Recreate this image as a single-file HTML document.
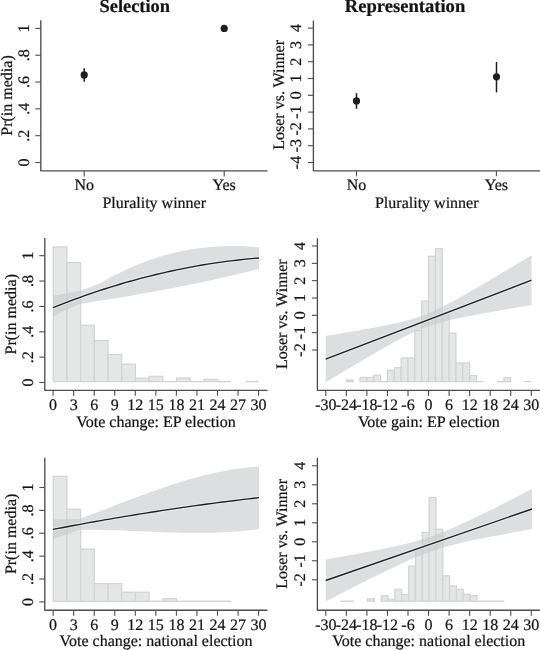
<!DOCTYPE html>
<html><head><meta charset="utf-8"><style>
html,body{margin:0;padding:0;background:#fff;}
svg{display:block;}
text{font-family:"Liberation Serif",serif;fill:#141414;stroke:#141414;stroke-width:0.22px;text-rendering:geometricPrecision;}
svg{will-change:transform;}
</style></head><body>
<svg width="540" height="650" viewBox="0 0 540 650">
<rect width="540" height="650" fill="#fff"/>
<text x="134.80" y="12.20" text-anchor="middle" font-size="18.4" font-weight="bold">Selection</text>
<text x="405.00" y="11.90" text-anchor="middle" font-size="18.6" font-weight="bold">Representation</text>
<path d="M40.80 20.20 V170.90 H267.50" fill="none" stroke="#4d4d4d" stroke-width="1.35" stroke-linejoin="round"/>
<line x1="35.30" y1="162.50" x2="40.80" y2="162.50" stroke="#4d4d4d" stroke-width="1.1"/>
<text transform="translate(28.70,162.50) rotate(-90)" text-anchor="middle" font-size="16" font-weight="normal">0</text>
<line x1="35.30" y1="135.68" x2="40.80" y2="135.68" stroke="#4d4d4d" stroke-width="1.1"/>
<text transform="translate(28.70,135.68) rotate(-90)" text-anchor="middle" font-size="16" font-weight="normal">.2</text>
<line x1="35.30" y1="108.86" x2="40.80" y2="108.86" stroke="#4d4d4d" stroke-width="1.1"/>
<text transform="translate(28.70,108.86) rotate(-90)" text-anchor="middle" font-size="16" font-weight="normal">.4</text>
<line x1="35.30" y1="82.04" x2="40.80" y2="82.04" stroke="#4d4d4d" stroke-width="1.1"/>
<text transform="translate(28.70,82.04) rotate(-90)" text-anchor="middle" font-size="16" font-weight="normal">.6</text>
<line x1="35.30" y1="55.22" x2="40.80" y2="55.22" stroke="#4d4d4d" stroke-width="1.1"/>
<text transform="translate(28.70,55.22) rotate(-90)" text-anchor="middle" font-size="16" font-weight="normal">.8</text>
<line x1="35.30" y1="28.40" x2="40.80" y2="28.40" stroke="#4d4d4d" stroke-width="1.1"/>
<text transform="translate(28.70,28.40) rotate(-90)" text-anchor="middle" font-size="16" font-weight="normal">1</text>
<line x1="84.20" y1="170.90" x2="84.20" y2="176.40" stroke="#4d4d4d" stroke-width="1.1"/>
<text x="84.20" y="190.00" text-anchor="middle" font-size="16" font-weight="normal">No</text>
<line x1="224.20" y1="170.90" x2="224.20" y2="176.40" stroke="#4d4d4d" stroke-width="1.1"/>
<text x="224.20" y="190.00" text-anchor="middle" font-size="16" font-weight="normal">Yes</text>
<text x="154.25" y="207.90" text-anchor="middle" font-size="16" font-weight="normal">Plurality winner</text>
<text transform="translate(11.60,95.50) rotate(-90)" text-anchor="middle" font-size="16" font-weight="normal">Pr(in media)</text>
<line x1="84.2" y1="68.2" x2="84.2" y2="81.8" stroke="#1e1e1e" stroke-width="1.5"/>
<circle cx="84.2" cy="74.9" r="3.6" fill="#1e1e1e"/>
<circle cx="224.2" cy="28.4" r="3.6" fill="#1e1e1e"/>
<path d="M313.40 20.50 V170.80 H540.00" fill="none" stroke="#4d4d4d" stroke-width="1.35" stroke-linejoin="round"/>
<line x1="307.90" y1="162.50" x2="313.40" y2="162.50" stroke="#4d4d4d" stroke-width="1.1"/>
<text transform="translate(300.70,162.50) rotate(-90)" text-anchor="middle" font-size="16" font-weight="normal">-4</text>
<line x1="307.90" y1="145.70" x2="313.40" y2="145.70" stroke="#4d4d4d" stroke-width="1.1"/>
<text transform="translate(300.70,145.70) rotate(-90)" text-anchor="middle" font-size="16" font-weight="normal">-3</text>
<line x1="307.90" y1="128.90" x2="313.40" y2="128.90" stroke="#4d4d4d" stroke-width="1.1"/>
<text transform="translate(300.70,128.90) rotate(-90)" text-anchor="middle" font-size="16" font-weight="normal">-2</text>
<line x1="307.90" y1="112.10" x2="313.40" y2="112.10" stroke="#4d4d4d" stroke-width="1.1"/>
<text transform="translate(300.70,112.10) rotate(-90)" text-anchor="middle" font-size="16" font-weight="normal">-1</text>
<line x1="307.90" y1="95.30" x2="313.40" y2="95.30" stroke="#4d4d4d" stroke-width="1.1"/>
<text transform="translate(300.70,95.30) rotate(-90)" text-anchor="middle" font-size="16" font-weight="normal">0</text>
<line x1="307.90" y1="78.50" x2="313.40" y2="78.50" stroke="#4d4d4d" stroke-width="1.1"/>
<text transform="translate(300.70,78.50) rotate(-90)" text-anchor="middle" font-size="16" font-weight="normal">1</text>
<line x1="307.90" y1="61.70" x2="313.40" y2="61.70" stroke="#4d4d4d" stroke-width="1.1"/>
<text transform="translate(300.70,61.70) rotate(-90)" text-anchor="middle" font-size="16" font-weight="normal">2</text>
<line x1="307.90" y1="44.90" x2="313.40" y2="44.90" stroke="#4d4d4d" stroke-width="1.1"/>
<text transform="translate(300.70,44.90) rotate(-90)" text-anchor="middle" font-size="16" font-weight="normal">3</text>
<line x1="307.90" y1="28.10" x2="313.40" y2="28.10" stroke="#4d4d4d" stroke-width="1.1"/>
<text transform="translate(300.70,28.10) rotate(-90)" text-anchor="middle" font-size="16" font-weight="normal">4</text>
<line x1="356.50" y1="170.80" x2="356.50" y2="176.30" stroke="#4d4d4d" stroke-width="1.1"/>
<text x="356.50" y="190.00" text-anchor="middle" font-size="16" font-weight="normal">No</text>
<line x1="496.40" y1="170.80" x2="496.40" y2="176.30" stroke="#4d4d4d" stroke-width="1.1"/>
<text x="496.40" y="190.00" text-anchor="middle" font-size="16" font-weight="normal">Yes</text>
<text x="426.75" y="207.90" text-anchor="middle" font-size="16" font-weight="normal">Plurality winner</text>
<text transform="translate(283.50,94.90) rotate(-90)" text-anchor="middle" font-size="16" font-weight="normal">Loser vs. Winner</text>
<line x1="356.5" y1="93.2" x2="356.5" y2="108.8" stroke="#1e1e1e" stroke-width="1.5"/>
<circle cx="356.5" cy="100.9" r="3.6" fill="#1e1e1e"/>
<line x1="496.5" y1="61.9" x2="496.5" y2="92.4" stroke="#1e1e1e" stroke-width="1.5"/>
<circle cx="496.5" cy="76.8" r="3.6" fill="#1e1e1e"/>
<path d="M44.80 238.00 V390.30 H267.50" fill="none" stroke="#4d4d4d" stroke-width="1.35" stroke-linejoin="round"/>
<line x1="39.30" y1="382.50" x2="44.80" y2="382.50" stroke="#4d4d4d" stroke-width="1.1"/>
<text transform="translate(32.60,382.50) rotate(-90)" text-anchor="middle" font-size="16" font-weight="normal">0</text>
<line x1="39.30" y1="357.14" x2="44.80" y2="357.14" stroke="#4d4d4d" stroke-width="1.1"/>
<text transform="translate(32.60,357.14) rotate(-90)" text-anchor="middle" font-size="16" font-weight="normal">.2</text>
<line x1="39.30" y1="331.78" x2="44.80" y2="331.78" stroke="#4d4d4d" stroke-width="1.1"/>
<text transform="translate(32.60,331.78) rotate(-90)" text-anchor="middle" font-size="16" font-weight="normal">.4</text>
<line x1="39.30" y1="306.42" x2="44.80" y2="306.42" stroke="#4d4d4d" stroke-width="1.1"/>
<text transform="translate(32.60,306.42) rotate(-90)" text-anchor="middle" font-size="16" font-weight="normal">.6</text>
<line x1="39.30" y1="281.06" x2="44.80" y2="281.06" stroke="#4d4d4d" stroke-width="1.1"/>
<text transform="translate(32.60,281.06) rotate(-90)" text-anchor="middle" font-size="16" font-weight="normal">.8</text>
<line x1="39.30" y1="255.70" x2="44.80" y2="255.70" stroke="#4d4d4d" stroke-width="1.1"/>
<text transform="translate(32.60,255.70) rotate(-90)" text-anchor="middle" font-size="16" font-weight="normal">1</text>
<line x1="53.10" y1="390.30" x2="53.10" y2="395.80" stroke="#4d4d4d" stroke-width="1.1"/>
<text x="53.10" y="409.60" text-anchor="middle" font-size="16" font-weight="normal">0</text>
<line x1="73.65" y1="390.30" x2="73.65" y2="395.80" stroke="#4d4d4d" stroke-width="1.1"/>
<text x="73.65" y="409.60" text-anchor="middle" font-size="16" font-weight="normal">3</text>
<line x1="94.20" y1="390.30" x2="94.20" y2="395.80" stroke="#4d4d4d" stroke-width="1.1"/>
<text x="94.20" y="409.60" text-anchor="middle" font-size="16" font-weight="normal">6</text>
<line x1="114.75" y1="390.30" x2="114.75" y2="395.80" stroke="#4d4d4d" stroke-width="1.1"/>
<text x="114.75" y="409.60" text-anchor="middle" font-size="16" font-weight="normal">9</text>
<line x1="135.30" y1="390.30" x2="135.30" y2="395.80" stroke="#4d4d4d" stroke-width="1.1"/>
<text x="135.30" y="409.60" text-anchor="middle" font-size="16" font-weight="normal">12</text>
<line x1="155.85" y1="390.30" x2="155.85" y2="395.80" stroke="#4d4d4d" stroke-width="1.1"/>
<text x="155.85" y="409.60" text-anchor="middle" font-size="16" font-weight="normal">15</text>
<line x1="176.40" y1="390.30" x2="176.40" y2="395.80" stroke="#4d4d4d" stroke-width="1.1"/>
<text x="176.40" y="409.60" text-anchor="middle" font-size="16" font-weight="normal">18</text>
<line x1="196.95" y1="390.30" x2="196.95" y2="395.80" stroke="#4d4d4d" stroke-width="1.1"/>
<text x="196.95" y="409.60" text-anchor="middle" font-size="16" font-weight="normal">21</text>
<line x1="217.50" y1="390.30" x2="217.50" y2="395.80" stroke="#4d4d4d" stroke-width="1.1"/>
<text x="217.50" y="409.60" text-anchor="middle" font-size="16" font-weight="normal">24</text>
<line x1="238.05" y1="390.30" x2="238.05" y2="395.80" stroke="#4d4d4d" stroke-width="1.1"/>
<text x="238.05" y="409.60" text-anchor="middle" font-size="16" font-weight="normal">27</text>
<line x1="258.60" y1="390.30" x2="258.60" y2="395.80" stroke="#4d4d4d" stroke-width="1.1"/>
<text x="258.60" y="409.60" text-anchor="middle" font-size="16" font-weight="normal">30</text>
<text x="156.00" y="426.60" text-anchor="middle" font-size="16" font-weight="normal">Vote change: EP election</text>
<text transform="translate(15.60,314.25) rotate(-90)" text-anchor="middle" font-size="16" font-weight="normal">Pr(in media)</text>
<rect x="53.25" y="247.00" width="13.70" height="134.60" fill="#e5e6e6" stroke="#d2d3d3" stroke-width="1.2"/>
<rect x="66.95" y="262.50" width="13.70" height="119.10" fill="#e5e6e6" stroke="#d2d3d3" stroke-width="1.2"/>
<rect x="80.65" y="325.30" width="13.70" height="56.30" fill="#e5e6e6" stroke="#d2d3d3" stroke-width="1.2"/>
<rect x="94.35" y="340.50" width="13.70" height="41.10" fill="#e5e6e6" stroke="#d2d3d3" stroke-width="1.2"/>
<rect x="108.05" y="354.50" width="13.70" height="27.10" fill="#e5e6e6" stroke="#d2d3d3" stroke-width="1.2"/>
<rect x="121.75" y="364.20" width="13.70" height="17.40" fill="#e5e6e6" stroke="#d2d3d3" stroke-width="1.2"/>
<rect x="135.45" y="378.20" width="13.70" height="3.40" fill="#e5e6e6" stroke="#d2d3d3" stroke-width="1.2"/>
<rect x="149.15" y="376.30" width="13.70" height="5.30" fill="#e5e6e6" stroke="#d2d3d3" stroke-width="1.2"/>
<line x1="162.85" y1="381.60" x2="176.55" y2="381.60" stroke="#d2d3d3" stroke-width="1.4"/>
<rect x="176.55" y="378.00" width="13.70" height="3.60" fill="#e5e6e6" stroke="#d2d3d3" stroke-width="1.2"/>
<line x1="190.25" y1="381.60" x2="203.95" y2="381.60" stroke="#d2d3d3" stroke-width="1.4"/>
<rect x="203.95" y="379.40" width="13.70" height="2.20" fill="#e5e6e6" stroke="#d2d3d3" stroke-width="1.2"/>
<line x1="217.65" y1="381.60" x2="231.35" y2="381.60" stroke="#d2d3d3" stroke-width="1.4"/>
<line x1="245.05" y1="381.60" x2="258.75" y2="381.60" stroke="#d2d3d3" stroke-width="1.4"/>
<path d="M53.00 295.80 L60.00 294.40 L80.00 291.10 L100.00 283.31 L105.30 280.24 L110.60 277.32 L115.90 274.54 L121.20 271.89 L126.50 269.39 L131.80 267.02 L137.10 264.79 L142.40 262.69 L147.70 260.73 L153.00 258.89 L158.30 257.19 L163.60 255.61 L168.90 254.16 L174.20 252.84 L179.50 251.63 L184.80 250.55 L190.10 249.59 L195.40 248.75 L200.70 248.02 L206.00 247.41 L211.30 246.91 L216.60 246.53 L221.90 246.26 L227.20 246.09 L232.50 246.04 L237.80 246.09 L243.10 246.24 L248.40 246.50 L253.70 246.86 L259.00 247.32 L259.00 268.91 L253.03 270.42 L247.07 271.89 L241.10 273.34 L235.13 274.75 L229.17 276.14 L223.20 277.50 L217.23 278.84 L211.27 280.15 L205.30 281.43 L199.33 282.69 L193.37 283.93 L187.40 285.15 L181.43 286.34 L175.47 287.51 L169.50 288.66 L163.53 289.79 L157.57 290.90 L151.60 291.99 L145.63 293.07 L139.67 294.12 L133.70 295.16 L127.73 296.18 L121.77 297.19 L115.80 298.19 L109.83 299.17 L103.87 300.13 L97.90 301.08 L91.93 302.03 L85.97 302.95 L80.00 303.87 L60.00 312.60 L53.00 317.20 Z" fill="#c9cacc" fill-opacity="0.63"/>
<path d="M53.00 307.60 L58.15 305.55 L63.30 303.55 L68.45 301.59 L73.60 299.66 L78.75 297.78 L83.90 295.95 L89.05 294.15 L94.20 292.39 L99.35 290.68 L104.50 289.00 L109.65 287.37 L114.80 285.78 L119.95 284.23 L125.10 282.72 L130.25 281.25 L135.40 279.82 L140.55 278.44 L145.70 277.09 L150.85 275.79 L156.00 274.53 L161.15 273.31 L166.30 272.13 L171.45 270.99 L176.60 269.90 L181.75 268.84 L186.90 267.83 L192.05 266.85 L197.20 265.92 L202.35 265.03 L207.50 264.18 L212.65 263.38 L217.80 262.61 L222.95 261.89 L228.10 261.20 L233.25 260.56 L238.40 259.96 L243.55 259.40 L248.70 258.88 L253.85 258.40 L259.00 257.97" fill="none" stroke="#f4f4f4" stroke-opacity="0.55" stroke-width="3.5500000000000003" stroke-linejoin="round"/>
<path d="M53.00 307.60 L58.15 305.55 L63.30 303.55 L68.45 301.59 L73.60 299.66 L78.75 297.78 L83.90 295.95 L89.05 294.15 L94.20 292.39 L99.35 290.68 L104.50 289.00 L109.65 287.37 L114.80 285.78 L119.95 284.23 L125.10 282.72 L130.25 281.25 L135.40 279.82 L140.55 278.44 L145.70 277.09 L150.85 275.79 L156.00 274.53 L161.15 273.31 L166.30 272.13 L171.45 270.99 L176.60 269.90 L181.75 268.84 L186.90 267.83 L192.05 266.85 L197.20 265.92 L202.35 265.03 L207.50 264.18 L212.65 263.38 L217.80 262.61 L222.95 261.89 L228.10 261.20 L233.25 260.56 L238.40 259.96 L243.55 259.40 L248.70 258.88 L253.85 258.40 L259.00 257.97" fill="none" stroke="#1e1e1e" stroke-width="1.35" stroke-linejoin="round"/>
<path d="M317.40 238.20 V390.40 H540.00" fill="none" stroke="#4d4d4d" stroke-width="1.35" stroke-linejoin="round"/>
<line x1="311.90" y1="349.98" x2="317.40" y2="349.98" stroke="#4d4d4d" stroke-width="1.1"/>
<text transform="translate(304.60,349.98) rotate(-90)" text-anchor="middle" font-size="16" font-weight="normal">-2</text>
<line x1="311.90" y1="332.65" x2="317.40" y2="332.65" stroke="#4d4d4d" stroke-width="1.1"/>
<text transform="translate(304.60,332.65) rotate(-90)" text-anchor="middle" font-size="16" font-weight="normal">-1</text>
<line x1="311.90" y1="315.32" x2="317.40" y2="315.32" stroke="#4d4d4d" stroke-width="1.1"/>
<text transform="translate(304.60,315.32) rotate(-90)" text-anchor="middle" font-size="16" font-weight="normal">0</text>
<line x1="311.90" y1="297.99" x2="317.40" y2="297.99" stroke="#4d4d4d" stroke-width="1.1"/>
<text transform="translate(304.60,297.99) rotate(-90)" text-anchor="middle" font-size="16" font-weight="normal">1</text>
<line x1="311.90" y1="280.66" x2="317.40" y2="280.66" stroke="#4d4d4d" stroke-width="1.1"/>
<text transform="translate(304.60,280.66) rotate(-90)" text-anchor="middle" font-size="16" font-weight="normal">2</text>
<line x1="311.90" y1="263.33" x2="317.40" y2="263.33" stroke="#4d4d4d" stroke-width="1.1"/>
<text transform="translate(304.60,263.33) rotate(-90)" text-anchor="middle" font-size="16" font-weight="normal">3</text>
<line x1="311.90" y1="246.00" x2="317.40" y2="246.00" stroke="#4d4d4d" stroke-width="1.1"/>
<text transform="translate(304.60,246.00) rotate(-90)" text-anchor="middle" font-size="16" font-weight="normal">4</text>
<line x1="325.80" y1="390.40" x2="325.80" y2="395.90" stroke="#4d4d4d" stroke-width="1.1"/>
<text x="325.80" y="409.60" text-anchor="middle" font-size="16" font-weight="normal">-30</text>
<line x1="346.35" y1="390.40" x2="346.35" y2="395.90" stroke="#4d4d4d" stroke-width="1.1"/>
<text x="346.35" y="409.60" text-anchor="middle" font-size="16" font-weight="normal">-24</text>
<line x1="366.90" y1="390.40" x2="366.90" y2="395.90" stroke="#4d4d4d" stroke-width="1.1"/>
<text x="366.90" y="409.60" text-anchor="middle" font-size="16" font-weight="normal">-18</text>
<line x1="387.45" y1="390.40" x2="387.45" y2="395.90" stroke="#4d4d4d" stroke-width="1.1"/>
<text x="387.45" y="409.60" text-anchor="middle" font-size="16" font-weight="normal">-12</text>
<line x1="408.00" y1="390.40" x2="408.00" y2="395.90" stroke="#4d4d4d" stroke-width="1.1"/>
<text x="408.00" y="409.60" text-anchor="middle" font-size="16" font-weight="normal">-6</text>
<line x1="428.55" y1="390.40" x2="428.55" y2="395.90" stroke="#4d4d4d" stroke-width="1.1"/>
<text x="428.55" y="409.60" text-anchor="middle" font-size="16" font-weight="normal">0</text>
<line x1="449.10" y1="390.40" x2="449.10" y2="395.90" stroke="#4d4d4d" stroke-width="1.1"/>
<text x="449.10" y="409.60" text-anchor="middle" font-size="16" font-weight="normal">6</text>
<line x1="469.65" y1="390.40" x2="469.65" y2="395.90" stroke="#4d4d4d" stroke-width="1.1"/>
<text x="469.65" y="409.60" text-anchor="middle" font-size="16" font-weight="normal">12</text>
<line x1="490.20" y1="390.40" x2="490.20" y2="395.90" stroke="#4d4d4d" stroke-width="1.1"/>
<text x="490.20" y="409.60" text-anchor="middle" font-size="16" font-weight="normal">18</text>
<line x1="510.75" y1="390.40" x2="510.75" y2="395.90" stroke="#4d4d4d" stroke-width="1.1"/>
<text x="510.75" y="409.60" text-anchor="middle" font-size="16" font-weight="normal">24</text>
<line x1="531.30" y1="390.40" x2="531.30" y2="395.90" stroke="#4d4d4d" stroke-width="1.1"/>
<text x="531.30" y="409.60" text-anchor="middle" font-size="16" font-weight="normal">30</text>
<text x="428.75" y="426.60" text-anchor="middle" font-size="16" font-weight="normal">Vote gain: EP election</text>
<text transform="translate(287.40,314.25) rotate(-90)" text-anchor="middle" font-size="16" font-weight="normal">Loser vs. Winner</text>
<rect x="346.35" y="380.00" width="6.85" height="1.60" fill="#e5e6e6" stroke="#d2d3d3" stroke-width="1.2"/>
<rect x="360.05" y="377.40" width="6.85" height="4.20" fill="#e5e6e6" stroke="#d2d3d3" stroke-width="1.2"/>
<rect x="366.90" y="377.40" width="6.85" height="4.20" fill="#e5e6e6" stroke="#d2d3d3" stroke-width="1.2"/>
<rect x="373.75" y="375.20" width="6.85" height="6.40" fill="#e5e6e6" stroke="#d2d3d3" stroke-width="1.2"/>
<line x1="380.60" y1="381.60" x2="387.45" y2="381.60" stroke="#d2d3d3" stroke-width="1.4"/>
<rect x="387.45" y="370.25" width="6.85" height="11.35" fill="#e5e6e6" stroke="#d2d3d3" stroke-width="1.2"/>
<rect x="394.30" y="367.70" width="6.85" height="13.90" fill="#e5e6e6" stroke="#d2d3d3" stroke-width="1.2"/>
<rect x="401.15" y="358.00" width="6.85" height="23.60" fill="#e5e6e6" stroke="#d2d3d3" stroke-width="1.2"/>
<rect x="408.00" y="358.00" width="6.85" height="23.60" fill="#e5e6e6" stroke="#d2d3d3" stroke-width="1.2"/>
<rect x="414.85" y="330.60" width="6.85" height="51.00" fill="#e5e6e6" stroke="#d2d3d3" stroke-width="1.2"/>
<rect x="421.70" y="301.00" width="6.85" height="80.60" fill="#e5e6e6" stroke="#d2d3d3" stroke-width="1.2"/>
<rect x="428.55" y="256.20" width="6.85" height="125.40" fill="#e5e6e6" stroke="#d2d3d3" stroke-width="1.2"/>
<rect x="435.40" y="248.70" width="6.85" height="132.90" fill="#e5e6e6" stroke="#d2d3d3" stroke-width="1.2"/>
<rect x="442.25" y="313.80" width="6.85" height="67.80" fill="#e5e6e6" stroke="#d2d3d3" stroke-width="1.2"/>
<rect x="449.10" y="333.20" width="6.85" height="48.40" fill="#e5e6e6" stroke="#d2d3d3" stroke-width="1.2"/>
<rect x="455.95" y="363.00" width="6.85" height="18.60" fill="#e5e6e6" stroke="#d2d3d3" stroke-width="1.2"/>
<rect x="462.80" y="363.00" width="6.85" height="18.60" fill="#e5e6e6" stroke="#d2d3d3" stroke-width="1.2"/>
<rect x="469.65" y="375.50" width="6.85" height="6.10" fill="#e5e6e6" stroke="#d2d3d3" stroke-width="1.2"/>
<line x1="476.50" y1="381.60" x2="483.35" y2="381.60" stroke="#d2d3d3" stroke-width="1.4"/>
<line x1="497.05" y1="381.60" x2="503.90" y2="381.60" stroke="#d2d3d3" stroke-width="1.4"/>
<rect x="503.90" y="377.70" width="6.85" height="3.90" fill="#e5e6e6" stroke="#d2d3d3" stroke-width="1.2"/>
<line x1="524.45" y1="381.60" x2="531.30" y2="381.60" stroke="#d2d3d3" stroke-width="1.4"/>
<path d="M325.70 335.94 L330.84 335.08 L335.99 334.21 L341.13 333.34 L346.28 332.46 L351.43 331.57 L356.57 330.68 L361.71 329.77 L366.86 328.84 L372.00 327.90 L377.15 326.93 L382.30 325.94 L387.44 324.90 L392.58 323.83 L397.73 322.68 L402.88 321.46 L408.02 320.13 L413.16 318.67 L418.31 317.04 L423.45 315.21 L428.60 313.17 L433.75 310.94 L438.89 308.52 L444.03 305.96 L449.18 303.28 L454.32 300.50 L459.47 297.66 L464.62 294.76 L469.76 291.83 L474.90 288.86 L480.05 285.87 L485.19 282.85 L490.34 279.82 L495.49 276.78 L500.63 273.73 L505.77 270.67 L510.92 267.60 L516.07 264.52 L521.21 261.44 L526.36 258.35 L531.50 255.26 L531.50 305.14 L526.36 305.99 L521.21 306.85 L516.07 307.72 L510.92 308.58 L505.77 309.46 L500.63 310.34 L495.49 311.23 L490.34 312.14 L485.19 313.05 L480.05 313.98 L474.90 314.94 L469.76 315.91 L464.62 316.92 L459.47 317.97 L454.32 319.07 L449.18 320.24 L444.03 321.51 L438.89 322.89 L433.75 324.42 L428.60 326.13 L423.45 328.04 L418.31 330.15 L413.16 332.47 L408.02 334.95 L402.88 337.56 L397.73 340.29 L392.58 343.09 L387.44 345.96 L382.30 348.87 L377.15 351.82 L372.00 354.80 L366.86 357.80 L361.71 360.82 L356.57 363.85 L351.43 366.90 L346.28 369.96 L341.13 373.02 L335.99 376.10 L330.84 379.18 L325.70 382.26 Z" fill="#c9cacc" fill-opacity="0.63"/>
<path d="M325.70 359.10 L531.50 280.20" fill="none" stroke="#f4f4f4" stroke-opacity="0.55" stroke-width="3.6" stroke-linejoin="round"/>
<path d="M325.70 359.10 L531.50 280.20" fill="none" stroke="#1e1e1e" stroke-width="1.4" stroke-linejoin="round"/>
<path d="M44.80 457.80 V610.20 H267.50" fill="none" stroke="#4d4d4d" stroke-width="1.35" stroke-linejoin="round"/>
<line x1="39.30" y1="601.90" x2="44.80" y2="601.90" stroke="#4d4d4d" stroke-width="1.1"/>
<text transform="translate(32.60,601.90) rotate(-90)" text-anchor="middle" font-size="16" font-weight="normal">0</text>
<line x1="39.30" y1="579.02" x2="44.80" y2="579.02" stroke="#4d4d4d" stroke-width="1.1"/>
<text transform="translate(32.60,579.02) rotate(-90)" text-anchor="middle" font-size="16" font-weight="normal">.2</text>
<line x1="39.30" y1="556.14" x2="44.80" y2="556.14" stroke="#4d4d4d" stroke-width="1.1"/>
<text transform="translate(32.60,556.14) rotate(-90)" text-anchor="middle" font-size="16" font-weight="normal">.4</text>
<line x1="39.30" y1="533.26" x2="44.80" y2="533.26" stroke="#4d4d4d" stroke-width="1.1"/>
<text transform="translate(32.60,533.26) rotate(-90)" text-anchor="middle" font-size="16" font-weight="normal">.6</text>
<line x1="39.30" y1="510.38" x2="44.80" y2="510.38" stroke="#4d4d4d" stroke-width="1.1"/>
<text transform="translate(32.60,510.38) rotate(-90)" text-anchor="middle" font-size="16" font-weight="normal">.8</text>
<line x1="39.30" y1="487.50" x2="44.80" y2="487.50" stroke="#4d4d4d" stroke-width="1.1"/>
<text transform="translate(32.60,487.50) rotate(-90)" text-anchor="middle" font-size="16" font-weight="normal">1</text>
<line x1="53.10" y1="610.20" x2="53.10" y2="615.70" stroke="#4d4d4d" stroke-width="1.1"/>
<text x="53.10" y="629.50" text-anchor="middle" font-size="16" font-weight="normal">0</text>
<line x1="73.65" y1="610.20" x2="73.65" y2="615.70" stroke="#4d4d4d" stroke-width="1.1"/>
<text x="73.65" y="629.50" text-anchor="middle" font-size="16" font-weight="normal">3</text>
<line x1="94.20" y1="610.20" x2="94.20" y2="615.70" stroke="#4d4d4d" stroke-width="1.1"/>
<text x="94.20" y="629.50" text-anchor="middle" font-size="16" font-weight="normal">6</text>
<line x1="114.75" y1="610.20" x2="114.75" y2="615.70" stroke="#4d4d4d" stroke-width="1.1"/>
<text x="114.75" y="629.50" text-anchor="middle" font-size="16" font-weight="normal">9</text>
<line x1="135.30" y1="610.20" x2="135.30" y2="615.70" stroke="#4d4d4d" stroke-width="1.1"/>
<text x="135.30" y="629.50" text-anchor="middle" font-size="16" font-weight="normal">12</text>
<line x1="155.85" y1="610.20" x2="155.85" y2="615.70" stroke="#4d4d4d" stroke-width="1.1"/>
<text x="155.85" y="629.50" text-anchor="middle" font-size="16" font-weight="normal">15</text>
<line x1="176.40" y1="610.20" x2="176.40" y2="615.70" stroke="#4d4d4d" stroke-width="1.1"/>
<text x="176.40" y="629.50" text-anchor="middle" font-size="16" font-weight="normal">18</text>
<line x1="196.95" y1="610.20" x2="196.95" y2="615.70" stroke="#4d4d4d" stroke-width="1.1"/>
<text x="196.95" y="629.50" text-anchor="middle" font-size="16" font-weight="normal">21</text>
<line x1="217.50" y1="610.20" x2="217.50" y2="615.70" stroke="#4d4d4d" stroke-width="1.1"/>
<text x="217.50" y="629.50" text-anchor="middle" font-size="16" font-weight="normal">24</text>
<line x1="238.05" y1="610.20" x2="238.05" y2="615.70" stroke="#4d4d4d" stroke-width="1.1"/>
<text x="238.05" y="629.50" text-anchor="middle" font-size="16" font-weight="normal">27</text>
<line x1="258.60" y1="610.20" x2="258.60" y2="615.70" stroke="#4d4d4d" stroke-width="1.1"/>
<text x="258.60" y="629.50" text-anchor="middle" font-size="16" font-weight="normal">30</text>
<text x="156.00" y="646.20" text-anchor="middle" font-size="16" font-weight="normal">Vote change: national election</text>
<text transform="translate(15.60,533.90) rotate(-90)" text-anchor="middle" font-size="16" font-weight="normal">Pr(in media)</text>
<rect x="53.25" y="476.30" width="13.70" height="125.00" fill="#e5e6e6" stroke="#d2d3d3" stroke-width="1.2"/>
<rect x="66.95" y="509.20" width="13.70" height="92.10" fill="#e5e6e6" stroke="#d2d3d3" stroke-width="1.2"/>
<rect x="80.65" y="549.00" width="13.70" height="52.30" fill="#e5e6e6" stroke="#d2d3d3" stroke-width="1.2"/>
<rect x="94.35" y="583.70" width="13.70" height="17.60" fill="#e5e6e6" stroke="#d2d3d3" stroke-width="1.2"/>
<rect x="108.05" y="583.70" width="13.70" height="17.60" fill="#e5e6e6" stroke="#d2d3d3" stroke-width="1.2"/>
<rect x="121.75" y="592.20" width="13.70" height="9.10" fill="#e5e6e6" stroke="#d2d3d3" stroke-width="1.2"/>
<rect x="135.45" y="592.20" width="13.70" height="9.10" fill="#e5e6e6" stroke="#d2d3d3" stroke-width="1.2"/>
<line x1="149.15" y1="601.30" x2="162.85" y2="601.30" stroke="#d2d3d3" stroke-width="1.4"/>
<rect x="162.85" y="598.70" width="13.70" height="2.60" fill="#e5e6e6" stroke="#d2d3d3" stroke-width="1.2"/>
<line x1="176.55" y1="601.30" x2="190.25" y2="601.30" stroke="#d2d3d3" stroke-width="1.4"/>
<line x1="190.25" y1="601.30" x2="203.95" y2="601.30" stroke="#d2d3d3" stroke-width="1.4"/>
<line x1="203.95" y1="601.30" x2="217.65" y2="601.30" stroke="#d2d3d3" stroke-width="1.4"/>
<line x1="217.65" y1="601.30" x2="231.35" y2="601.30" stroke="#d2d3d3" stroke-width="1.4"/>
<path d="M53.00 519.20 L66.50 519.20 L80.00 518.74 L85.97 516.50 L91.93 514.24 L97.90 511.96 L103.87 509.68 L109.83 507.39 L115.80 505.10 L121.77 502.82 L127.73 500.55 L133.70 498.30 L139.67 496.08 L145.63 493.90 L151.60 491.75 L157.57 489.64 L163.53 487.58 L169.50 485.59 L175.47 483.65 L181.43 481.78 L187.40 479.99 L193.37 478.28 L199.33 476.65 L205.30 475.12 L211.27 473.69 L217.23 472.36 L223.20 471.14 L229.17 470.04 L235.13 469.06 L241.10 468.22 L247.07 467.50 L253.03 466.93 L259.00 466.51 L259.00 529.00 L253.03 529.78 L247.07 530.45 L241.10 531.02 L235.13 531.51 L229.17 531.91 L223.20 532.23 L217.23 532.47 L211.27 532.65 L205.30 532.76 L199.33 532.81 L193.37 532.81 L187.40 532.76 L181.43 532.67 L175.47 532.54 L169.50 532.38 L163.53 532.19 L157.57 531.98 L151.60 531.76 L145.63 531.52 L139.67 531.28 L133.70 531.03 L127.73 530.80 L121.77 530.57 L115.80 530.35 L109.83 530.16 L103.87 530.00 L97.90 529.86 L91.93 529.77 L85.97 529.71 L80.00 529.70 L66.50 534.50 L53.00 539.00 Z" fill="#c9cacc" fill-opacity="0.63"/>
<path d="M53.00 529.45 L58.15 528.45 L63.30 527.47 L68.45 526.49 L73.60 525.53 L78.75 524.57 L83.90 523.63 L89.05 522.69 L94.20 521.77 L99.35 520.86 L104.50 519.95 L109.65 519.06 L114.80 518.18 L119.95 517.30 L125.10 516.44 L130.25 515.59 L135.40 514.75 L140.55 513.92 L145.70 513.10 L150.85 512.28 L156.00 511.48 L161.15 510.69 L166.30 509.91 L171.45 509.14 L176.60 508.38 L181.75 507.63 L186.90 506.90 L192.05 506.17 L197.20 505.45 L202.35 504.74 L207.50 504.04 L212.65 503.35 L217.80 502.68 L222.95 502.01 L228.10 501.35 L233.25 500.71 L238.40 500.07 L243.55 499.44 L248.70 498.83 L253.85 498.22 L259.00 497.63" fill="none" stroke="#f4f4f4" stroke-opacity="0.55" stroke-width="3.5500000000000003" stroke-linejoin="round"/>
<path d="M53.00 529.45 L58.15 528.45 L63.30 527.47 L68.45 526.49 L73.60 525.53 L78.75 524.57 L83.90 523.63 L89.05 522.69 L94.20 521.77 L99.35 520.86 L104.50 519.95 L109.65 519.06 L114.80 518.18 L119.95 517.30 L125.10 516.44 L130.25 515.59 L135.40 514.75 L140.55 513.92 L145.70 513.10 L150.85 512.28 L156.00 511.48 L161.15 510.69 L166.30 509.91 L171.45 509.14 L176.60 508.38 L181.75 507.63 L186.90 506.90 L192.05 506.17 L197.20 505.45 L202.35 504.74 L207.50 504.04 L212.65 503.35 L217.80 502.68 L222.95 502.01 L228.10 501.35 L233.25 500.71 L238.40 500.07 L243.55 499.44 L248.70 498.83 L253.85 498.22 L259.00 497.63" fill="none" stroke="#1e1e1e" stroke-width="1.35" stroke-linejoin="round"/>
<path d="M317.40 457.80 V610.20 H540.00" fill="none" stroke="#4d4d4d" stroke-width="1.35" stroke-linejoin="round"/>
<line x1="311.90" y1="579.80" x2="317.40" y2="579.80" stroke="#4d4d4d" stroke-width="1.1"/>
<text transform="translate(304.60,579.80) rotate(-90)" text-anchor="middle" font-size="16" font-weight="normal">-2</text>
<line x1="311.90" y1="560.80" x2="317.40" y2="560.80" stroke="#4d4d4d" stroke-width="1.1"/>
<text transform="translate(304.60,560.80) rotate(-90)" text-anchor="middle" font-size="16" font-weight="normal">-1</text>
<line x1="311.90" y1="541.80" x2="317.40" y2="541.80" stroke="#4d4d4d" stroke-width="1.1"/>
<text transform="translate(304.60,541.80) rotate(-90)" text-anchor="middle" font-size="16" font-weight="normal">0</text>
<line x1="311.90" y1="522.80" x2="317.40" y2="522.80" stroke="#4d4d4d" stroke-width="1.1"/>
<text transform="translate(304.60,522.80) rotate(-90)" text-anchor="middle" font-size="16" font-weight="normal">1</text>
<line x1="311.90" y1="503.80" x2="317.40" y2="503.80" stroke="#4d4d4d" stroke-width="1.1"/>
<text transform="translate(304.60,503.80) rotate(-90)" text-anchor="middle" font-size="16" font-weight="normal">2</text>
<line x1="311.90" y1="484.80" x2="317.40" y2="484.80" stroke="#4d4d4d" stroke-width="1.1"/>
<text transform="translate(304.60,484.80) rotate(-90)" text-anchor="middle" font-size="16" font-weight="normal">3</text>
<line x1="311.90" y1="465.80" x2="317.40" y2="465.80" stroke="#4d4d4d" stroke-width="1.1"/>
<text transform="translate(304.60,465.80) rotate(-90)" text-anchor="middle" font-size="16" font-weight="normal">4</text>
<line x1="325.80" y1="610.20" x2="325.80" y2="615.70" stroke="#4d4d4d" stroke-width="1.1"/>
<text x="325.80" y="629.50" text-anchor="middle" font-size="16" font-weight="normal">-30</text>
<line x1="346.35" y1="610.20" x2="346.35" y2="615.70" stroke="#4d4d4d" stroke-width="1.1"/>
<text x="346.35" y="629.50" text-anchor="middle" font-size="16" font-weight="normal">-24</text>
<line x1="366.90" y1="610.20" x2="366.90" y2="615.70" stroke="#4d4d4d" stroke-width="1.1"/>
<text x="366.90" y="629.50" text-anchor="middle" font-size="16" font-weight="normal">-18</text>
<line x1="387.45" y1="610.20" x2="387.45" y2="615.70" stroke="#4d4d4d" stroke-width="1.1"/>
<text x="387.45" y="629.50" text-anchor="middle" font-size="16" font-weight="normal">-12</text>
<line x1="408.00" y1="610.20" x2="408.00" y2="615.70" stroke="#4d4d4d" stroke-width="1.1"/>
<text x="408.00" y="629.50" text-anchor="middle" font-size="16" font-weight="normal">-6</text>
<line x1="428.55" y1="610.20" x2="428.55" y2="615.70" stroke="#4d4d4d" stroke-width="1.1"/>
<text x="428.55" y="629.50" text-anchor="middle" font-size="16" font-weight="normal">0</text>
<line x1="449.10" y1="610.20" x2="449.10" y2="615.70" stroke="#4d4d4d" stroke-width="1.1"/>
<text x="449.10" y="629.50" text-anchor="middle" font-size="16" font-weight="normal">6</text>
<line x1="469.65" y1="610.20" x2="469.65" y2="615.70" stroke="#4d4d4d" stroke-width="1.1"/>
<text x="469.65" y="629.50" text-anchor="middle" font-size="16" font-weight="normal">12</text>
<line x1="490.20" y1="610.20" x2="490.20" y2="615.70" stroke="#4d4d4d" stroke-width="1.1"/>
<text x="490.20" y="629.50" text-anchor="middle" font-size="16" font-weight="normal">18</text>
<line x1="510.75" y1="610.20" x2="510.75" y2="615.70" stroke="#4d4d4d" stroke-width="1.1"/>
<text x="510.75" y="629.50" text-anchor="middle" font-size="16" font-weight="normal">24</text>
<line x1="531.30" y1="610.20" x2="531.30" y2="615.70" stroke="#4d4d4d" stroke-width="1.1"/>
<text x="531.30" y="629.50" text-anchor="middle" font-size="16" font-weight="normal">30</text>
<text x="428.75" y="646.20" text-anchor="middle" font-size="16" font-weight="normal">Vote change: national election</text>
<text transform="translate(287.40,533.90) rotate(-90)" text-anchor="middle" font-size="16" font-weight="normal">Loser vs. Winner</text>
<line x1="340.18" y1="601.20" x2="347.02" y2="601.20" stroke="#d2d3d3" stroke-width="1.4"/>
<line x1="347.02" y1="601.20" x2="353.86" y2="601.20" stroke="#d2d3d3" stroke-width="1.4"/>
<rect x="367.54" y="598.80" width="6.84" height="2.40" fill="#e5e6e6" stroke="#d2d3d3" stroke-width="1.2"/>
<rect x="381.22" y="595.80" width="6.84" height="5.40" fill="#e5e6e6" stroke="#d2d3d3" stroke-width="1.2"/>
<rect x="388.06" y="599.25" width="6.84" height="1.95" fill="#e5e6e6" stroke="#d2d3d3" stroke-width="1.2"/>
<rect x="394.90" y="589.30" width="6.84" height="11.90" fill="#e5e6e6" stroke="#d2d3d3" stroke-width="1.2"/>
<rect x="401.74" y="594.40" width="6.84" height="6.80" fill="#e5e6e6" stroke="#d2d3d3" stroke-width="1.2"/>
<rect x="408.58" y="566.10" width="6.84" height="35.10" fill="#e5e6e6" stroke="#d2d3d3" stroke-width="1.2"/>
<rect x="415.42" y="550.00" width="6.84" height="51.20" fill="#e5e6e6" stroke="#d2d3d3" stroke-width="1.2"/>
<rect x="422.26" y="532.40" width="6.84" height="68.80" fill="#e5e6e6" stroke="#d2d3d3" stroke-width="1.2"/>
<rect x="429.10" y="497.40" width="6.84" height="103.80" fill="#e5e6e6" stroke="#d2d3d3" stroke-width="1.2"/>
<rect x="435.94" y="529.20" width="6.84" height="72.00" fill="#e5e6e6" stroke="#d2d3d3" stroke-width="1.2"/>
<rect x="442.78" y="575.80" width="6.84" height="25.40" fill="#e5e6e6" stroke="#d2d3d3" stroke-width="1.2"/>
<rect x="449.62" y="586.00" width="6.84" height="15.20" fill="#e5e6e6" stroke="#d2d3d3" stroke-width="1.2"/>
<rect x="456.46" y="589.30" width="6.84" height="11.90" fill="#e5e6e6" stroke="#d2d3d3" stroke-width="1.2"/>
<rect x="463.30" y="594.25" width="6.84" height="6.95" fill="#e5e6e6" stroke="#d2d3d3" stroke-width="1.2"/>
<rect x="470.14" y="595.75" width="6.84" height="5.45" fill="#e5e6e6" stroke="#d2d3d3" stroke-width="1.2"/>
<line x1="476.98" y1="601.20" x2="483.82" y2="601.20" stroke="#d2d3d3" stroke-width="1.4"/>
<line x1="483.82" y1="601.20" x2="490.66" y2="601.20" stroke="#d2d3d3" stroke-width="1.4"/>
<line x1="490.66" y1="601.20" x2="497.50" y2="601.20" stroke="#d2d3d3" stroke-width="1.4"/>
<line x1="497.50" y1="601.20" x2="504.34" y2="601.20" stroke="#d2d3d3" stroke-width="1.4"/>
<path d="M325.70 559.46 L330.86 558.56 L336.01 557.66 L341.17 556.75 L346.33 555.83 L351.49 554.91 L356.64 553.97 L361.80 553.02 L366.96 552.05 L372.12 551.07 L377.27 550.06 L382.43 549.03 L387.59 547.96 L392.75 546.86 L397.90 545.71 L403.06 544.51 L408.22 543.23 L413.38 541.88 L418.53 540.44 L423.69 538.89 L428.85 537.22 L434.01 535.44 L439.16 533.53 L444.32 531.51 L449.48 529.38 L454.64 527.16 L459.79 524.86 L464.95 522.49 L470.11 520.06 L475.27 517.59 L480.42 515.08 L485.58 512.54 L490.74 509.98 L495.90 507.39 L501.06 504.78 L506.21 502.15 L511.37 499.52 L516.53 496.87 L521.68 494.21 L526.84 491.55 L532.00 488.87 L532.00 529.13 L526.84 530.03 L521.68 530.94 L516.53 531.85 L511.37 532.78 L506.21 533.72 L501.06 534.67 L495.90 535.64 L490.74 536.62 L485.58 537.63 L480.42 538.67 L475.27 539.73 L470.11 540.84 L464.95 541.99 L459.79 543.19 L454.64 544.47 L449.48 545.82 L444.32 547.27 L439.16 548.82 L434.01 550.49 L428.85 552.28 L423.69 554.19 L418.53 556.21 L413.38 558.34 L408.22 560.57 L403.06 562.87 L397.90 565.24 L392.75 567.67 L387.59 570.14 L382.43 572.65 L377.27 575.19 L372.12 577.76 L366.96 580.35 L361.80 582.96 L356.64 585.58 L351.49 588.22 L346.33 590.87 L341.17 593.52 L336.01 596.19 L330.86 598.86 L325.70 601.54 Z" fill="#c9cacc" fill-opacity="0.63"/>
<path d="M325.70 580.50 L532.00 509.00" fill="none" stroke="#f4f4f4" stroke-opacity="0.55" stroke-width="3.6" stroke-linejoin="round"/>
<path d="M325.70 580.50 L532.00 509.00" fill="none" stroke="#1e1e1e" stroke-width="1.4" stroke-linejoin="round"/>
</svg></body></html>
